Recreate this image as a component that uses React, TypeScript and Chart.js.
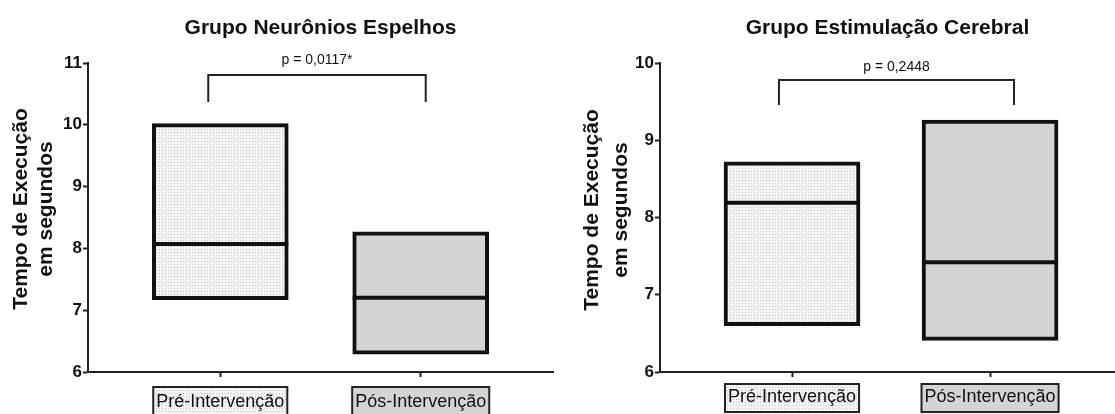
import React, { useEffect, useRef } from 'react';
import { Chart, registerables } from 'chart.js';

Chart.register(...registerables);

// ---- data ----
const categories = ['Pré-Intervenção', 'Pós-Intervenção'];
const yTitleLines = ['Tempo de Execução', 'em segundos'];

const neuroTitle = 'Grupo Neurônios Espelhos';
const neuroMin = [7.17, 6.29];
const neuroMax = [10.02, 8.27];
const neuroMedian = [8.07, 7.2];
const neuroYRange = [6, 11];
const neuroP = 'p = 0,0117*';

const estimTitle = 'Grupo Estimulação Cerebral';
const estimMin = [6.6, 6.41];
const estimMax = [8.72, 9.26];
const estimMedian = [8.19, 7.42];
const estimYRange = [6, 10];
const estimP = 'p = 0,2448';

const FONT = "'Liberation Sans', Arial, sans-serif";

const panels = [
  {
    left: 0, width: 556, title: neuroTitle, min: neuroMin, max: neuroMax, median: neuroMedian,
    yRange: neuroYRange, p: neuroP, xMin: 0.34, xMax: 2.66, padRight: 3, yScaleWidth: 88,
    top: 63, titleLineX: [21, 46], titleCenterY: 209, tickPad: 14, labelBoxY: 401,
    bracket: { x0: 0.94, x1: 2.025, yTop: 10.806, yBottom: 10.37, textY: 11.05 },
  },
  {
    left: 556, width: 559, title: estimTitle, min: estimMin, max: estimMax, median: estimMedian,
    yRange: estimYRange, p: estimP, xMin: 0.3333, xMax: 2.631, padRight: 0, yScaleWidth: 104,
    top: 63, titleLineX: [36, 65], titleCenterY: 210, tickPad: 9, labelBoxY: 398,
    bracket: { x0: 0.934, x1: 2.121, yTop: 9.78, yBottom: 9.456, textY: 9.95 },
  },
];

function makePattern(): CanvasPattern | string {
  const c = document.createElement('canvas');
  c.width = 3; c.height = 3;
  const g = c.getContext('2d');
  if (!g) return '#ececec';
  g.fillStyle = '#f3f3f3';
  g.fillRect(0, 0, 3, 3);
  g.fillStyle = '#c4c4c4';
  g.fillRect(0, 0, 1, 1);
  const ctx = document.createElement('canvas').getContext('2d');
  const p = ctx ? ctx.createPattern(c, 'repeat') : null;
  return p || '#ececec';
}

function Panel({ cfg }: { cfg: any }) {
  const ref = useRef<HTMLCanvasElement>(null);
  useEffect(() => {
    const canvas = ref.current;
    if (!canvas) return;
    const fills = [makePattern(), '#d4d4d4'];

    const deco = {
      id: 'deco',
      beforeDraw(chart: any) {
        const ctx = chart.ctx;
        const xs = chart.scales.x;
        ctx.save();
        ctx.font = `18px ${FONT}`;
        categories.forEach((c, i) => {
          const px = xs.getPixelForValue(i + 1);
          const w = ctx.measureText(c).width + 6;
          const h = 28;
          const cy = cfg.labelBoxY;
          ctx.fillStyle = fills[i];
          ctx.fillRect(px - w / 2, cy - h / 2, w, h);
          ctx.lineWidth = 2;
          ctx.strokeStyle = '#222';
          ctx.strokeRect(px - w / 2, cy - h / 2, w, h);
        });
        ctx.restore();
      },
      afterDatasetsDraw(chart: any) {
        const ctx = chart.ctx;
        const xs = chart.scales.x;
        const ys = chart.scales.y;
        const area = chart.chartArea;
        ctx.save();
        // medians
        const meta = chart.getDatasetMeta(0);
        meta.data.forEach((bar: any, i: number) => {
          const { x, width } = bar.getProps(['x', 'width'], true);
          const y = ys.getPixelForValue(cfg.median[i]);
          ctx.beginPath();
          ctx.lineWidth = 4;
          ctx.strokeStyle = '#111';
          ctx.moveTo(x - width / 2, y);
          ctx.lineTo(x + width / 2, y);
          ctx.stroke();
        });
        // bracket
        const b = cfg.bracket;
        const bx0 = xs.getPixelForValue(b.x0);
        const bx1 = xs.getPixelForValue(b.x1);
        const byT = ys.getPixelForValue(b.yTop);
        const byB = ys.getPixelForValue(b.yBottom);
        ctx.beginPath();
        ctx.lineWidth = 2;
        ctx.strokeStyle = '#222';
        ctx.moveTo(bx0, byB);
        ctx.lineTo(bx0, byT);
        ctx.lineTo(bx1, byT);
        ctx.lineTo(bx1, byB);
        ctx.stroke();
        ctx.fillStyle = '#111';
        ctx.font = `14px ${FONT}`;
        ctx.textAlign = 'center';
        ctx.textBaseline = 'middle';
        ctx.fillText(cfg.p, (bx0 + bx1) / 2, ys.getPixelForValue(b.textY));
        // title
        ctx.font = `bold 21px ${FONT}`;
        ctx.fillText(cfg.title, (area.left + area.right) / 2, 28);
        // y title
        ctx.font = `bold 21px ${FONT}`;
        yTitleLines.forEach((t, i) => {
          ctx.save();
          ctx.translate(cfg.titleLineX[i], cfg.titleCenterY);
          ctx.rotate(-Math.PI / 2);
          ctx.fillText(t, 0, 0);
          ctx.restore();
        });
        ctx.restore();
      },
    };

    const chart = new Chart(canvas, {
      type: 'bar',
      data: {
        datasets: [
          {
            data: categories.map((_, i) => ({ x: i + 1, y: [cfg.min[i], cfg.max[i]] })) as any,
            backgroundColor: fills as any,
            borderColor: '#111',
            borderWidth: 4,
            borderSkipped: false,
            barThickness: 136,
          },
        ],
      },
      options: {
        responsive: false,
        animation: false,
        devicePixelRatio: 1,
        layout: { padding: { left: 0, top: cfg.top, right: cfg.padRight, bottom: 0 } },
        plugins: { legend: { display: false }, tooltip: { enabled: false }, title: { display: false } },
        scales: {
          x: {
            type: 'linear',
            offset: false,
            min: cfg.xMin,
            max: cfg.xMax,
            afterBuildTicks: (s: any) => { s.ticks = categories.map((_, i) => ({ value: i + 1 })); },
            afterFit: (s: any) => { s.height = 414 - 372; },
            ticks: {
              callback: (v: any) => categories[Number(v) - 1] ?? '',
              font: { family: FONT, size: 18 },
              color: '#111',
              padding: cfg.tickPad,
              maxRotation: 0,
              autoSkip: false,
            },
            grid: { offset: false, drawOnChartArea: false, drawTicks: true, tickLength: 5, tickWidth: 2, tickColor: '#222' },
            border: { display: true, color: '#222', width: 2 },
          },
          y: {
            type: 'linear',
            min: cfg.yRange[0],
            max: cfg.yRange[1],
            afterFit: (s: any) => { s.width = cfg.yScaleWidth; },
            ticks: {
              stepSize: 1,
              font: { family: FONT, size: 17, weight: 'bold' },
              color: '#111',
              padding: 1,
            },
            grid: { drawOnChartArea: false, drawTicks: true, tickLength: 5, tickWidth: 2, tickColor: '#222' },
            border: { display: true, color: '#222', width: 2 },
          },
        },
      } as any,
      plugins: [deco],
    });
    return () => chart.destroy();
  }, []);
  return (
    <canvas
      ref={ref}
      width={cfg.width}
      height={414}
      style={{ position: 'absolute', left: cfg.left, top: 0, width: cfg.width, height: 414 }}
    />
  );
}

export default function App() {
  return (
    <div style={{ position: 'absolute', left: 0, top: 0, width: 1115, height: 414, background: '#fff' }}>
      {panels.map((p, i) => (
        <Panel key={i} cfg={p} />
      ))}
    </div>
  );
}
